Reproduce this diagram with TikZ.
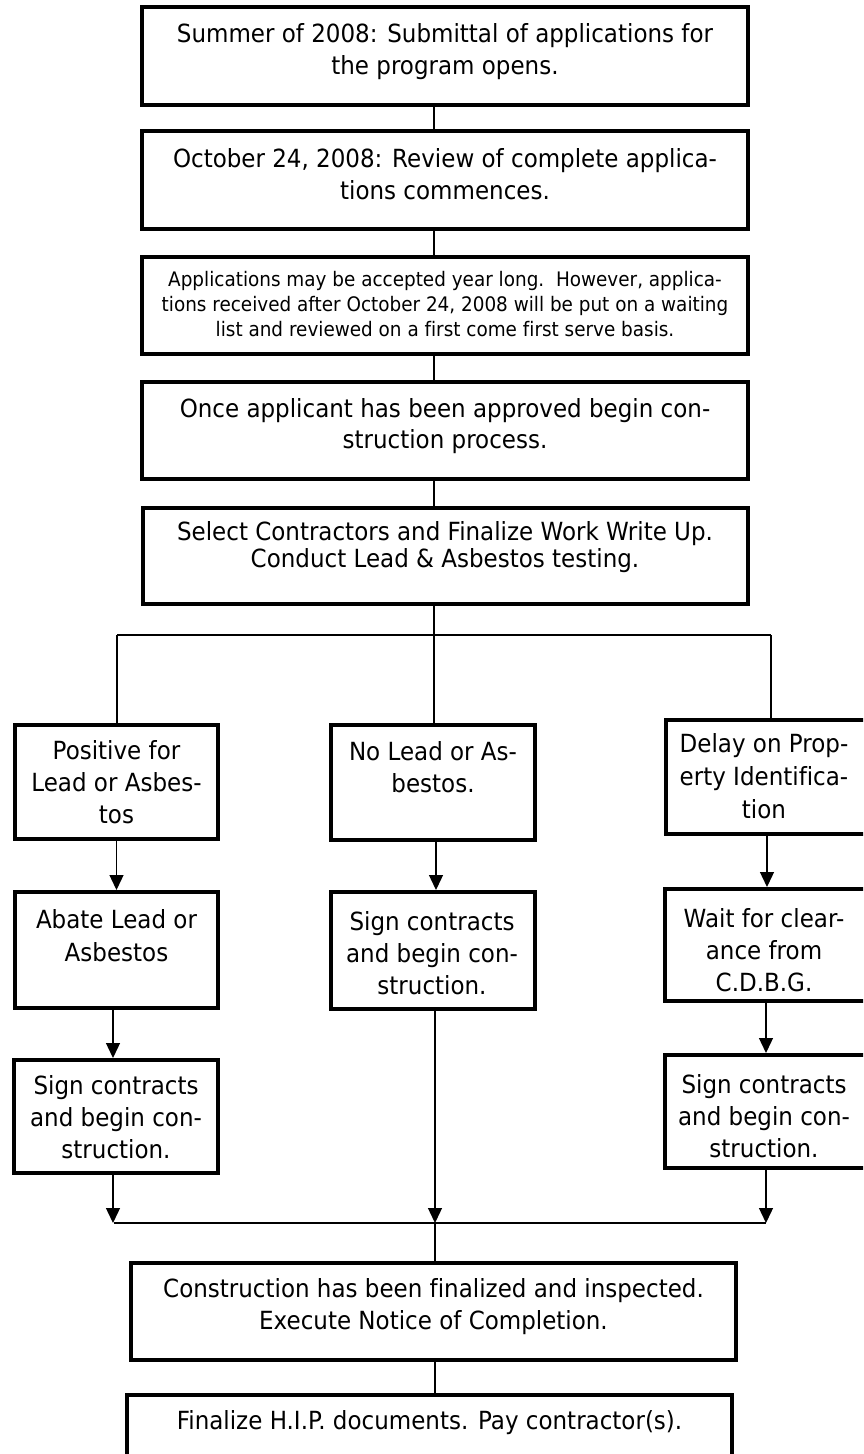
\documentclass[tikz,border=0pt]{standalone}
\usepackage{fontspec}
\setmainfont{DejaVu Sans}[FakeStretch=0.92, Ligatures=NoCommon]
\usetikzlibrary{arrows.meta}
\newcommand\firstln{\rule{0pt}{19pt}}
\newcommand\firstsm{\rule{0pt}{15.2pt}}
\begin{document}
\begin{tikzpicture}[x=1pt,y=-1pt,
  box/.style={draw=black, line width=4pt, fill=white, inner sep=0pt, anchor=north west},
  txt/.style={inner sep=0pt, anchor=north, align=center, font=\fontsize{25pt}{32pt}\selectfont},
  conn/.style={draw=black, line width=1.3pt},
  arr/.style={conn, -{Triangle[width=14pt,length=15pt]}}]
\useasboundingbox (0,0) rectangle (863,1454);
\fill[white] (0,0) rectangle (863,1454);
\clip (0,0) rectangle (863,1454);

% main column boxes
\node[box, minimum width=606pt, minimum height=98pt] (b1) at (140,5) {};
\node[box, minimum width=606pt, minimum height=98pt] (b2) at (140,129) {};
\node[box, minimum width=606pt, minimum height=97pt] (b3) at (140,255) {};
\node[box, minimum width=606pt, minimum height=97pt] (b4) at (140,380) {};
\node[box, minimum width=605pt, minimum height=96pt] (b5) at (141,506) {};

% side boxes
\node[box, minimum width=203pt, minimum height=114pt] (pos) at (13,723) {};
\node[box, minimum width=204pt, minimum height=115pt] (nol) at (329,723) {};
\node[box, minimum width=203pt, minimum height=114pt] (del) at (664,718) {};
\node[box, minimum width=203pt, minimum height=116pt] (aba) at (13,890) {};
\node[box, minimum width=204pt, minimum height=117pt] (sgm) at (329,890) {};
\node[box, minimum width=204pt, minimum height=112pt] (wai) at (663,887) {};
\node[box, minimum width=204pt, minimum height=113pt] (sgl) at (12,1058) {};
\node[box, minimum width=204pt, minimum height=113pt] (sgr) at (663,1053) {};

% bottom boxes
\node[box, minimum width=605pt, minimum height=97pt] (con) at (129,1261) {};
\node[box, minimum width=605pt, minimum height=103pt] (fin) at (125,1393) {};

% texts
\node[txt] (t1) at (445,23) {\firstln Summer of 2008: Submittal of applications for\\the program opens.};
\node[txt] (t2) at (445,148) {\firstln October 24, 2008: Review of complete applica-\\tions commences.};
\node[txt, font=\fontsize{20pt}{25pt}\selectfont] (t3) at (445,270.8) {\firstsm Applications may be accepted year long.\ \ However, applica-\\tions received after October 24, 2008 will be put on a waiting\\list and reviewed on a first come first serve basis.};
\node[txt, font=\fontsize{25pt}{31pt}\selectfont] (t4) at (445,398) {\firstln Once applicant has been approved begin con-\\struction process.};
\node[txt, font=\fontsize{25pt}{27pt}\selectfont] (t5) at (445,521) {\firstln Select Contractors and Finalize Work Write Up.\\Conduct Lead \& Asbestos testing.};

\node[txt] (tpos) at (116.5,740) {\firstln Positive for\\Lead or Asbes-\\tos};
\node[txt] (tnol) at (433,741) {\firstln No Lead or As-\\bestos.};
\node[txt, font=\fontsize{25pt}{33pt}\selectfont] (tdel) at (764,733.7) {\firstln Delay on Prop-\\erty Identifica-\\tion};
\node[txt, font=\fontsize{25pt}{33pt}\selectfont] (taba) at (116.5,909) {\firstln Abate Lead or\\Asbestos};
\node[txt] (tsgm) at (432,911) {\firstln Sign contracts\\and begin con-\\struction.};
\node[txt] (twai) at (764,908) {\firstln Wait for clear-\\ance from\\C.D.B.G.};
\node[txt] (tsgl) at (116,1075) {\firstln Sign contracts\\and begin con-\\struction.};
\node[txt] (tsgr) at (764,1074) {\firstln Sign contracts\\and begin con-\\struction.};

\node[txt, font=\fontsize{25pt}{31.5pt}\selectfont] (tcon) at (433.5,1278.5) {\firstln Construction has been finalized and inspected.\\Execute Notice of Completion.};
\node[txt] (tfin) at (429.5,1410) {\firstln Finalize H.I.P. documents. Pay contractor(s).};

% helper coordinates
\coordinate (cx) at (434,0);
\coordinate (bl) at (117,635);
\coordinate (bm) at (434,635);
\coordinate (brr) at (771,635);
\coordinate (xl) at (113,0);
\coordinate (xm) at (436,0);
\coordinate (xr) at (766,0);
\coordinate (ml) at (113,1223);
\coordinate (mm) at (435,1223);
\coordinate (mr) at (766,1223);

% top connectors
\draw[conn] (b1.south -| cx) -- (b2.north -| cx);
\draw[conn] (b2.south -| cx) -- (b3.north -| cx);
\draw[conn] (b3.south -| cx) -- (b4.north -| cx);
\draw[conn] (b4.south -| cx) -- (b5.north -| cx);
\draw[conn] (b5.south -| cx) -- (bm);

% branch
\draw[conn] (bl) -- (brr);
\draw[conn] (bl) -- (bl |- pos.north);
\draw[conn] (bm) -- (bm |- nol.north);
\draw[conn] (brr) -- (brr |- del.north);

% left column
\draw[arr] (pos.south) -- (aba.north);
\draw[arr] (aba.south -| xl) -- (sgl.north -| xl);
\draw[arr] (sgl.south -| ml) -- (ml);

% middle column
\draw[arr] (nol.south -| xm) -- (sgm.north -| xm);
\draw[arr] (sgm.south -| mm) -- (mm);

% right column
\draw[arr] ([xshift=-0.5pt]del.south) -- ([xshift=-0.5pt]del.south |- wai.north);
\draw[arr] (wai.south -| xr) -- (sgr.north -| xr);
\draw[arr] (sgr.south -| mr) -- (mr);

% merge
\draw[draw=black, line width=2pt] ([xshift=1pt]ml) -- (mr);
\draw[conn] (mm) -- (mm |- con.north);
\draw[conn] (con.south -| mm) -- (fin.north -| mm);
\end{tikzpicture}
\end{document}
